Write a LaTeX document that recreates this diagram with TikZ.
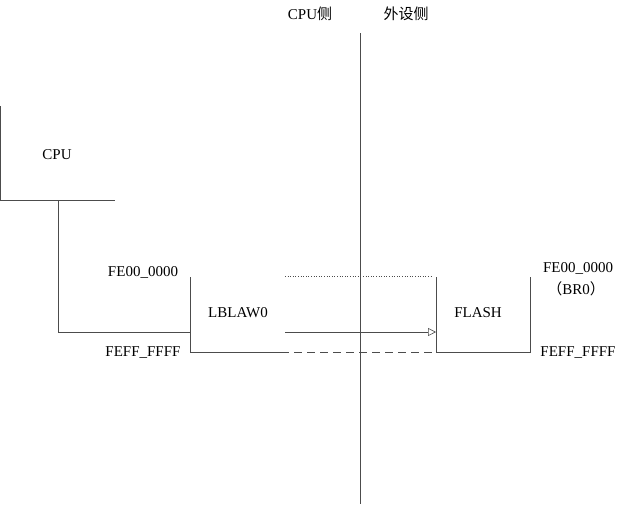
\documentclass[tikz,border=0pt]{standalone}
\usepackage{fontspec}
\setmainfont{Liberation Serif}
\newfontfamily\cjk{Noto Sans CJK SC}
\usetikzlibrary{arrows.meta}
\begin{document}
\begin{tikzpicture}[x=1pt, y=-1pt,
                    every node/.style={inner sep=0pt, font=\fontsize{15}{17}\selectfont},
                    wall/.style={draw=black!70, line width=0.9pt},
                    bus/.style={draw=black!70, line width=0.6pt}
                    ]
                    \useasboundingbox (0,0) rectangle (618,504);

                    \node (cpuside) at (310,14) {CPU{\cjk 侧}};
                    \node (devside) at (406,14) {\cjk 外设侧};

                    \node (cpu) at (57,155) {CPU};
                    \node (lblaw) at (238,313) {LBLAW0};
                    \node (flash) at (478,313) {FLASH};

                    \node (lbtop) at (143,272) {FE00\_0000};
                    \node (lbbot) at (143,353) {FEFF\_FFFF};
                    \node (fltop) at (578,268) {FE00\_0000};
                    \node (flbr) at (576,289) {{\cjk （}BR0{\cjk ）}};
                    \node (flbot) at (578,353) {FEFF\_FFFF};

                    \coordinate (divtop) at (360,33);
                    \coordinate (divbot) at (360,504);

                    \coordinate (cputl) at (0.5,106);
                    \coordinate (cpubl) at (0.5,200);
                    \coordinate (cpubr) at (115,200);
                    \coordinate (cpuout) at (58,200);

                    \coordinate (lbtl) at (190,277);
                    \coordinate (lbbl) at (190,352);
                    \coordinate (lbbr) at (285,352);
                    \coordinate (lbin) at (190,332);
                    \coordinate (lbout) at (285,332);
                    \coordinate (lbtr) at (285,276);

                    \coordinate (fltl) at (436,277);
                    \coordinate (flbl) at (436,352);
                    \coordinate (flbr2) at (530,352);
                    \coordinate (fltr) at (530,277);
                    \coordinate (flin) at (436,332);
                    \coordinate (fldot) at (432,276);

                    \draw[wall] (divtop) -- (divbot);
                    \draw[wall] (cputl) -- (cpubl) -- (cpubr);
                    \draw[wall] (lbtl) -- (lbbl) -- (lbbr);
                    \draw[wall] (fltl) -- (flbl) -- (flbr2) -- (fltr);

                    \draw[bus] (cpuout) |- (lbin);
                    \draw[bus, -{Triangle[open, length=8pt, width=8pt]}] (lbout) -- (flin);
                    \draw[bus, dotted] (lbtr) -- (fldot);
                    \draw[wall, dash pattern=on 8pt off 5pt, dash phase=4pt] (lbbr) -- (flbl);
                \end{tikzpicture}
\end{document}
